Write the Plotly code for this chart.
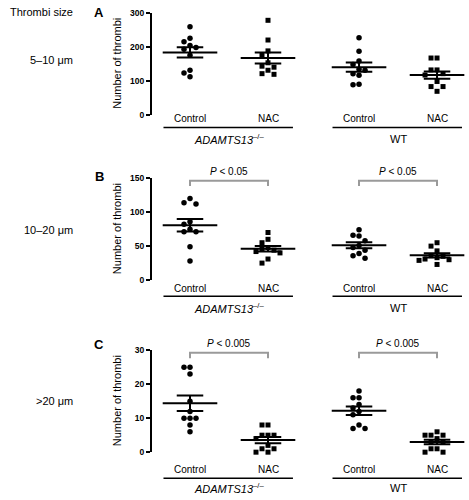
import numpy as np
import plotly.graph_objects as go

W, H = 469, 500
FONT = "Liberation Sans, Arial, sans-serif"

# ---------------- data ----------------
categories = ["Control", "NAC", "Control", "NAC"]
genotype_labels = ["<i>ADAMTS13</i><sup>–/–</sup>", "WT"]
size_labels = ["5–10 μm", "10–20 μm", ">20 μm"]
panel_letters = ["A", "B", "C"]
p_labels = [None, "<i>P</i> < 0.05", "<i>P</i> < 0.005"]
y_max = [300, 150, 30]
y_ticks = [[0, 100, 200, 300], [0, 50, 100, 150], [0, 10, 20, 30]]

# Panel A (5-10 um)
A_ctrl_ko = [259, 225, 215, 204, 198, 193, 175, 131, 123, 112]
A_nac_ko = [278, 220, 188, 177, 153, 143, 140, 131, 121, 119]
A_ctrl_wt = [227, 187, 158, 148, 134, 131, 121, 116, 90, 88]
A_nac_wt = [167, 167, 132, 132, 121, 117, 98, 83, 83, 69]
# Panel B (10-20 um)
B_ctrl_ko = [120, 114, 112, 86, 82, 75, 71, 71, 49, 28]
B_nac_ko = [70, 60, 55, 48, 46, 44, 42, 40, 31, 25]
B_ctrl_wt = [74, 66, 65, 58, 51, 48, 44, 39, 36, 32]
B_nac_wt = [55, 50, 43, 36, 35, 33, 31, 30, 29, 23]
# Panel C (>20 um)
C_ctrl_ko = [25, 25, 23, 15, 12, 10, 10, 10, 8, 6]
C_nac_ko = [8, 8, 5, 5, 5, 4, 2, 1, 1, 0, 0]
C_ctrl_wt = [18, 16, 16, 14, 13, 12, 11, 8, 7, 7]
C_nac_wt = [6, 5, 5, 5, 4, 3, 3, 1, 1, 0, 0]

panels = [
    [A_ctrl_ko, A_nac_ko, A_ctrl_wt, A_nac_wt],
    [B_ctrl_ko, B_nac_ko, B_ctrl_wt, B_nac_wt],
    [C_ctrl_ko, C_nac_ko, C_ctrl_wt, C_nac_wt],
]

# ---------------- layout constants (pixels) ----------------
X_POS = [1.0, 2.0, 3.167, 4.167]
PX_PER_X = 78.0
AXIS_LEFT_PX = 152
CAT1_PX = 190
PLOT_TOP_PX = [8, 176.7, 352.3]
PLOT_H_PX = 104
LABEL_OFF = [4, 8.5, 17.5]
GLINE_OFF = [13, 16.6, 26.6]
GLABEL_OFF = [24.7, 28.3, 37.0]
LETTER_Y = [7.5, 175, 346.7]
SIZE_Y = [56, 230, 404.3]

x_range = [1 - (CAT1_PX - AXIS_LEFT_PX) / PX_PER_X, 1 + (W - CAT1_PX) / PX_PER_X]


def py(px):
    return 1 - px / H


def swarm(vals, ppu):
    order = sorted(range(len(vals)), key=lambda k: -vals[k])
    placed = []
    offs = [0.0] * len(vals)
    for k in order:
        ypx = vals[k] * ppu
        chosen = 0
        for c in [0, -6, 6, -12, 12, -18, 18]:
            if all((c - ox) ** 2 + (ypx - oy) ** 2 >= 36 for ox, oy in placed):
                chosen = c
                break
        placed.append((chosen, ypx))
        offs[k] = chosen / PX_PER_X
    return offs


fig = go.Figure()
annotations = []
shapes = []
layout_axes = {}

for i, groups in enumerate(panels):
    sfx = "" if i == 0 else str(i + 1)
    xa, ya = "x" + sfx, "y" + sfx
    top = PLOT_TOP_PX[i]
    bot = top + PLOT_H_PX
    ymax = y_max[i]
    ppu = PLOT_H_PX / ymax

    layout_axes["xaxis" + sfx] = dict(
        domain=[AXIS_LEFT_PX / W, 1], range=x_range, visible=False,
        anchor=ya, fixedrange=True)
    layout_axes["yaxis" + sfx] = dict(
        domain=[py(bot), py(top)], range=[0, ymax], anchor=xa,
        showline=True, linecolor="black", linewidth=2, mirror=False,
        ticks="outside", ticklen=4, tickwidth=2, tickcolor="black",
        tickvals=y_ticks[i], ticktext=[str(t) for t in y_ticks[i]],
        tickfont=dict(family=FONT, size=8.5, color="black", weight="bold"),
        showgrid=False, zeroline=False, fixedrange=True)

    for j, vals in enumerate(groups):
        xc = X_POS[j]
        offs = swarm(vals, ppu)
        symbol = "circle" if categories[j] == "Control" else "square"
        fig.add_trace(go.Scatter(
            x=[xc + o for o in offs], y=vals, mode="markers",
            marker=dict(symbol=symbol, size=5.5 if symbol == "circle" else 5,
                        color="black", line=dict(width=0)),
            xaxis=xa, yaxis=ya, cliponaxis=False, showlegend=False,
            hoverinfo="skip"))
        arr = np.array(vals, dtype=float)
        m = arr.mean()
        sem = arr.std(ddof=1) / np.sqrt(len(arr))
        lx, ly = [], []
        lx += [xc - 0.35, xc + 0.35, None]; ly += [m, m, None]
        lx += [xc - 0.17, xc + 0.17, None]; ly += [m + sem, m + sem, None]
        lx += [xc - 0.17, xc + 0.17, None]; ly += [m - sem, m - sem, None]
        lx += [xc, xc]; ly += [m - sem, m + sem]
        fig.add_trace(go.Scatter(
            x=lx, y=ly, mode="lines", line=dict(color="black", width=2),
            xaxis=xa, yaxis=ya, cliponaxis=False, showlegend=False,
            hoverinfo="skip"))
        annotations.append(dict(
            x=xc, y=py(bot + LABEL_OFF[i]), xref=xa, yref="paper",
            text=categories[j], showarrow=False, xanchor="center",
            yanchor="middle", font=dict(family=FONT, size=10, color="black")))

    # genotype lines & labels
    for g in range(2):
        x1, x2 = X_POS[2 * g], X_POS[2 * g + 1]
        shapes.append(dict(
            type="line", xref=xa, yref="paper",
            x0=x1 - 0.34, x1=x2 + 0.32,
            y0=py(bot + GLINE_OFF[i]), y1=py(bot + GLINE_OFF[i]),
            line=dict(color="black", width=1.5)))
        annotations.append(dict(
            x=(x1 + x2) / 2, y=py(bot + GLABEL_OFF[i]), xref=xa, yref="paper",
            text=genotype_labels[g], showarrow=False, xanchor="center",
            yanchor="middle", font=dict(family=FONT, size=11, color="black")))

        # significance brackets
        if p_labels[i]:
            yt = 0.975 * ymax
            yb = yt - 0.053 * ymax
            fig.add_trace(go.Scatter(
                x=[x1, x1, x2, x2], y=[yb, yt, yt, yb], mode="lines",
                line=dict(color="#9a9a9a", width=2),
                xaxis=xa, yaxis=ya, cliponaxis=False, showlegend=False,
                hoverinfo="skip"))
            annotations.append(dict(
                x=(x1 + x2) / 2, y=yt, xref=xa, yref=ya, text=p_labels[i],
                showarrow=False, xanchor="center", yanchor="bottom", yshift=2,
                font=dict(family=FONT, size=10, color="black")))

    # y axis title
    annotations.append(dict(
        x=117 / W, y=py(top + PLOT_H_PX / 2), xref="paper", yref="paper",
        text="Number of thrombi", textangle=-90, showarrow=False,
        xanchor="center", yanchor="middle",
        font=dict(family=FONT, size=11, color="black")))
    # panel letter
    annotations.append(dict(
        x=99 / W, y=py(LETTER_Y[i]), xref="paper", yref="paper",
        text="<b>" + panel_letters[i] + "</b>", showarrow=False,
        xanchor="center", yanchor="middle",
        font=dict(family=FONT, size=13, color="black")))
    # size label
    annotations.append(dict(
        x=75 / W, y=py(SIZE_Y[i]), xref="paper", yref="paper",
        text=size_labels[i], showarrow=False, xanchor="right",
        yanchor="middle", font=dict(family=FONT, size=11, color="black")))

annotations.append(dict(
    x=75 / W, y=py(7.5), xref="paper", yref="paper", text="Thrombi size",
    showarrow=False, xanchor="right", yanchor="middle",
    font=dict(family=FONT, size=11, color="black")))

fig.update_layout(
    width=W, height=H, margin=dict(l=0, r=0, t=0, b=0),
    paper_bgcolor="white", plot_bgcolor="white",
    annotations=annotations, shapes=shapes, showlegend=False,
    **layout_axes)

fig.write_html("out.html",
               config={"displayModeBar": False, "staticPlot": True},
               post_script="document.body.style.margin='0';"
                           "document.body.style.padding='0';")
